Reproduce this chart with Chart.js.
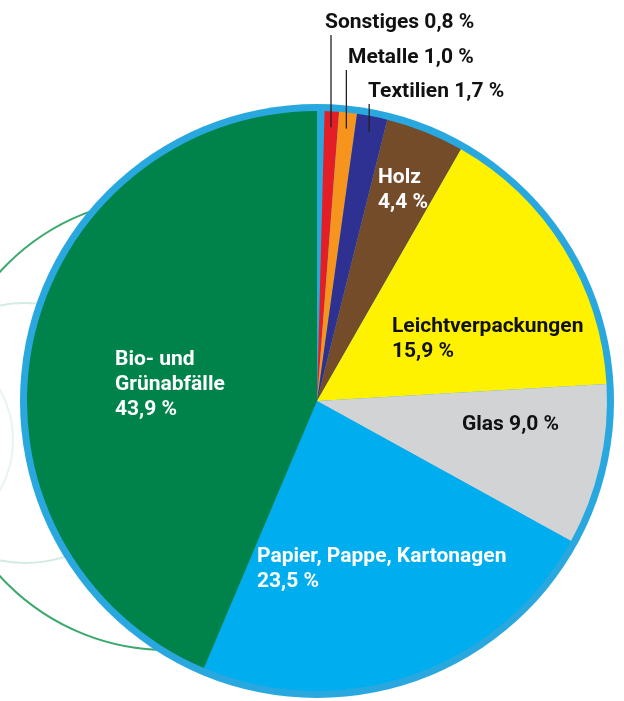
<!DOCTYPE html>
<html>
<head>
<meta charset="utf-8">
<script src="https://cdn.jsdelivr.net/npm/chart.js@4"></script>
<style>
  html, body { margin: 0; padding: 0; background: #fff; }
  #wrap { width: 624px; height: 701px; }
</style>
</head>
<body>
<div id="wrap"><canvas id="chart"></canvas></div>
<script>
// Data
const categories = ['Sonstiges', 'Metalle', 'Textilien', 'Holz', 'Leichtverpackungen', 'Glas', 'Papier, Pappe, Kartonagen', 'Bio- und Grünabfälle'];
const shares = [0.8, 1.0, 1.7, 4.4, 15.9, 9.0, 23.5, 43.9];
const labelLines = [['Sonstiges'], ['Metalle'], ['Textilien'], ['Holz'], ['Leichtverpackungen'], ['Glas'], ['Papier, Pappe, Kartonagen'], ['Bio- und', 'Grünabfälle']];

const sliceColors = ['#e31e26', '#f7941d', '#2e3192', '#754c29', '#fff200', '#d1d3d4', '#00aeef', '#00834a'];
const ringColor = '#29a8e0';

// label placement (canvas px): x, first baseline, text colour, value on same line?, leader line
const labelLayout = [
    { x: 325, y: 28, color: '#111', inline: true, leader: true },
    { x: 348, y: 63, color: '#111', inline: true, leader: true },
    { x: 368, y: 97, color: '#111', inline: true, leader: true },
    { x: 378, y: 183, color: '#fff', inline: false },
    { x: 392, y: 332, color: '#111', inline: false },
    { x: 462, y: 430, color: '#111', inline: true },
    { x: 257, y: 562, color: '#fff', inline: false },
    { x: 115, y: 365, color: '#fff', inline: false }
];
const lineHeight = 25;
const labelFont = 'bold 21px Roboto, "Liberation Sans", sans-serif';

function fmt(v) {
    return v.toFixed(1).replace('.', ',') + ' %';
}

// decorative circles behind the pie + outer ring
const backdrop = {
    id: 'backdrop',
    beforeDatasetsDraw(chart) {
        const ctx = chart.ctx;
        const arc = chart.getDatasetMeta(0).data[0];
        const cx = arc.x, cy = arc.y, r = arc.outerRadius;
        ctx.save();
        ctx.lineWidth = 2;
        ctx.strokeStyle = '#e9f4ef';
        ctx.beginPath(); ctx.arc(cx - 407, cy + 39, 103, 0, Math.PI * 2); ctx.stroke();
        ctx.strokeStyle = '#d3ebe1';
        ctx.beginPath(); ctx.arc(cx - 292, cy + 32, 130, 0, Math.PI * 2); ctx.stroke();
        ctx.strokeStyle = '#3aa96b';
        ctx.beginPath(); ctx.arc(cx - 150, cy + 23, 226, 0, Math.PI * 2); ctx.stroke();
        ctx.fillStyle = ringColor;
        ctx.beginPath(); ctx.arc(cx, cy, r + 7, 0, Math.PI * 2); ctx.fill();
        ctx.restore();
    }
};

const sliceLabels = {
    id: 'sliceLabels',
    afterDatasetsDraw(chart) {
        const ctx = chart.ctx;
        const arcs = chart.getDatasetMeta(0).data;
        ctx.save();
        ctx.font = labelFont;
        ctx.textBaseline = 'alphabetic';
        ctx.textAlign = 'left';
        shares.forEach((v, i) => {
            const lay = labelLayout[i];
            let lines = labelLines[i].slice();
            if (lay.inline) {
                lines[lines.length - 1] += ' ' + fmt(v);
            } else {
                lines.push(fmt(v));
            }
            ctx.fillStyle = lay.color;
            lines.forEach((t, k) => ctx.fillText(t, lay.x, lay.y + k * lineHeight));
            if (lay.leader) {
                const a = arcs[i];
                const mid = (a.startAngle + a.endAngle) / 2;
                const px = a.x + (a.outerRadius - 16) * Math.cos(mid);
                const py = a.y + (a.outerRadius - 16) * Math.sin(mid);
                ctx.strokeStyle = '#222';
                ctx.lineWidth = 1.3;
                ctx.beginPath();
                ctx.moveTo(px, lay.y + 7);
                ctx.lineTo(px, py);
                ctx.stroke();
            }
        });
        ctx.restore();
    }
};

new Chart(document.getElementById('chart'), {
    type: 'pie',
    data: {
        labels: categories,
        datasets: [{
            data: shares,
            backgroundColor: sliceColors,
            borderWidth: 0
        }]
    },
    options: {
        responsive: true,
        maintainAspectRatio: false,
        animation: false,
        rotation: 1.5,
        circumference: 358.5,
        layout: { padding: { left: 27, right: 17, top: 111, bottom: 10 } },
        plugins: {
            legend: { display: false },
            tooltip: { enabled: false }
        }
    },
    plugins: [backdrop, sliceLabels]
});
</script>
</body>
</html>
